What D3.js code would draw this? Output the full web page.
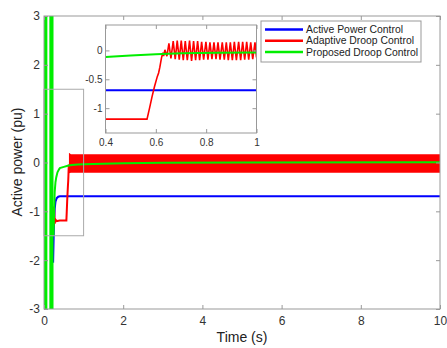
<html>
<script src="https://d3js.org/d3.v7.min.js"></script>
<body style="margin:0;background:#fff">
<svg id="chart" width="447" height="348"></svg>
<script>
// values, [time (s), active power (pu)]
var seriesNames = ["Active Power Control", "Adaptive Droop Control", "Proposed Droop Control"];
var seriesColors = ["#0000ff", "#ff0000", "#00ee00"];

var activePower = [[0.23,-2.05],[0.25,-1.3],[0.27,-0.95],[0.29,-0.8],[0.32,-0.73],[0.36,-0.7],[0.4,-0.69],[10,-0.69]];

var adaptiveStart = [[0.225,-0.9],[0.24,-1.3],[0.255,-0.95],[0.27,-1.25],[0.29,-1.17],[0.32,-1.2],[0.4,-1.19],
    [0.565,-1.19],[0.575,-1.0],[0.585,-0.8],[0.595,-0.62],[0.606,-0.45],[0.611,-0.39],[0.616,-0.29],
    [0.62,-0.19],[0.623,-0.12],[0.628,-0.04],[0.631,-0.1]];
// oscillation after the step, peaks and troughs as seen in the inset
var adaptivePeakT = [0.636,0.652,0.669,0.685,0.701,0.717,0.734,0.750,0.766,0.782,0.799,0.815,0.831,0.847,0.864,0.880,0.896,0.912,0.929,0.945,0.961,0.977,0.994];
var adaptivePeak = [0.01,0.12,0.16,0.17,0.17,0.16,0.17,0.16,0.16,0.15,0.15,0.14,0.14,0.14,0.14,0.14,0.14,0.15,0.15,0.15,0.15,0.14,0.14];
var adaptiveTroughT = [0.644,0.660,0.677,0.693,0.709,0.725,0.742,0.758,0.774,0.790,0.807,0.823,0.839,0.855,0.872,0.888,0.904,0.920,0.937,0.953,0.969,0.985,1.0];
var adaptiveTrough = [-0.1,-0.14,-0.15,-0.16,-0.17,-0.17,-0.18,-0.17,-0.17,-0.16,-0.16,-0.15,-0.15,-0.16,-0.16,-0.17,-0.17,-0.17,-0.17,-0.16,-0.16,-0.15,-0.12];
// envelope of the same oscillation over the full run
var adaptiveBandT = [0.63,0.68,1,10];
var adaptiveBandHi = [0.2,0.17,0.17,0.17];
var adaptiveBandLo = [-0.22,-0.21,-0.21,-0.21];

// start-up bursts that saturate the axis, [from, to] in s
var proposedBursts = [[0,0.085],[0.135,0.24]];
var proposedTrace = [[0.24,-1.5],[0.255,-1.0],[0.27,-0.6],[0.29,-0.4],[0.31,-0.3],[0.34,-0.2],[0.38,-0.14],[0.4,-0.115],
    [0.5,-0.09],[0.6,-0.065],[0.7,-0.05],[0.85,-0.04],[1,-0.035],[1.5,-0.025],[2,-0.015],[3,-0.005],[5,0],[10,0.005]];

var xTicks = [0,2,4,6,8,10];
var yTicks = [-3,-2,-1,0,1,2,3];
var insetXTicks = [0.4,0.6,0.8,1];
var insetYTicks = [-1,-0.5,0];
var zoomBox = [0,1,-1.5,1.5];

var svg = d3.select("#chart");
var font = "'Liberation Sans', Arial, sans-serif";
var gray = "#999";

// oscillation points merged in time order
var adaptiveOsc = [];
for (var i = 0; i < adaptivePeakT.length; i++) {
    adaptiveOsc.push([adaptivePeakT[i], adaptivePeak[i]]);
    adaptiveOsc.push([adaptiveTroughT[i], adaptiveTrough[i]]);
}
var adaptiveInset = adaptiveStart.concat(adaptiveOsc);
var band = adaptiveBandT.map(function(t, i) { return [t, adaptiveBandHi[i], adaptiveBandLo[i]]; });

function drawAxes(g, x, y, xt, yt, fs, xPad, yPad) {
    var w = x.range()[1] - x.range()[0];
    var h = y.range()[0] - y.range()[1];
    var fmt = function(d) { return String(d); };
    g.append("g").attr("transform", "translate(0," + y.range()[0] + ")")
        .call(d3.axisBottom(x).tickValues(xt).tickSizeInner(-4).tickSizeOuter(0).tickPadding(xPad).tickFormat(fmt));
    g.append("g").attr("transform", "translate(0," + y.range()[1] + ")")
        .call(d3.axisTop(x).tickValues(xt).tickSizeInner(-4).tickSizeOuter(0).tickFormat(""));
    g.append("g").attr("transform", "translate(" + x.range()[0] + ",0)")
        .call(d3.axisLeft(y).tickValues(yt).tickSizeInner(-4).tickSizeOuter(0).tickPadding(yPad).tickFormat(fmt));
    g.append("g").attr("transform", "translate(" + x.range()[1] + ",0)")
        .call(d3.axisRight(y).tickValues(yt).tickSizeInner(-4).tickSizeOuter(0).tickFormat(""));
    g.selectAll(".domain").remove();
    g.selectAll(".tick line").attr("stroke", gray);
    g.selectAll(".tick text").attr("fill", "#333").style("font-family", font).style("font-size", fs + "px");
    g.append("rect").attr("x", x.range()[0]).attr("y", y.range()[1]).attr("width", w).attr("height", h)
        .attr("fill", "none").attr("stroke", gray);
}

// main axes
var x = d3.scaleLinear().domain([0,10]).range([44,440]);
var y = d3.scaleLinear().domain([-3,3]).range([309,16]);

svg.append("clipPath").attr("id", "mainClip").append("rect")
    .attr("x", 44).attr("y", 16).attr("width", 396).attr("height", 293);

var plot = svg.append("g").attr("clip-path", "url(#mainClip)");
var line = d3.line().x(function(d) { return x(d[0]); }).y(function(d) { return y(d[1]); });

plot.append("path").datum(activePower).attr("d", line)
    .attr("fill", "none").attr("stroke", seriesColors[0]).attr("stroke-width", 2);

plot.append("path").datum(adaptiveStart).attr("d", line)
    .attr("fill", "none").attr("stroke", seriesColors[1]).attr("stroke-width", 2);
plot.append("path").datum(band)
    .attr("d", d3.area().x(function(d) { return x(d[0]); }).y0(function(d) { return y(d[2]); }).y1(function(d) { return y(d[1]); }))
    .attr("fill", seriesColors[1]);

plot.selectAll("rect.burst").data(proposedBursts).enter().append("rect")
    .attr("class", "burst")
    .attr("x", function(d) { return x(d[0]); })
    .attr("width", function(d) { return x(d[1]) - x(d[0]); })
    .attr("y", y(3)).attr("height", y(-3) - y(3))
    .attr("fill", seriesColors[2]);
plot.append("path").datum(proposedTrace).attr("d", line)
    .attr("fill", "none").attr("stroke", seriesColors[2]).attr("stroke-width", 2);

// zoom box around the first second
svg.append("rect")
    .attr("x", x(zoomBox[0])).attr("y", y(zoomBox[3]))
    .attr("width", x(zoomBox[1]) - x(zoomBox[0])).attr("height", y(zoomBox[2]) - y(zoomBox[3]))
    .attr("fill", "none").attr("stroke", "#aaa");

drawAxes(svg.append("g"), x, y, xTicks, yTicks, 12, 7, 4);

svg.append("text").attr("x", 242).attr("y", 342).attr("text-anchor", "middle")
    .style("font-family", font).style("font-size", "14px").attr("fill", "#222").text("Time (s)");
svg.append("text").attr("transform", "rotate(-90)").attr("x", -162).attr("y", 22).attr("text-anchor", "middle")
    .style("font-family", font).style("font-size", "14px").attr("fill", "#222").text("Active power (pu)");

// inset
var ix = d3.scaleLinear().domain([0.4,1]).range([105.5,256.5]);
var iy = d3.scaleLinear().domain([-1.43,0.44]).range([133,25]);
var inset = svg.append("g");
inset.append("rect").attr("x", 105.5).attr("y", 25).attr("width", 151).attr("height", 108).attr("fill", "#fff");
inset.append("clipPath").attr("id", "insetClip").append("rect")
    .attr("x", 105.5).attr("y", 25).attr("width", 151).attr("height", 108);
var iplot = inset.append("g").attr("clip-path", "url(#insetClip)");
var iline = d3.line().x(function(d) { return ix(d[0]); }).y(function(d) { return iy(d[1]); });
iplot.append("path").datum(activePower).attr("d", iline)
    .attr("fill", "none").attr("stroke", seriesColors[0]).attr("stroke-width", 2);
iplot.append("path").datum(adaptiveInset).attr("d", iline)
    .attr("fill", "none").attr("stroke", seriesColors[1]).attr("stroke-width", 1.6);
iplot.append("path").datum(proposedTrace).attr("d", iline)
    .attr("fill", "none").attr("stroke", seriesColors[2]).attr("stroke-width", 2);
drawAxes(inset, ix, iy, insetXTicks, insetYTicks, 10, 6, 3);

// legend
var legend = svg.append("g");
legend.append("rect").attr("x", 261).attr("y", 21).attr("width", 160).attr("height", 41)
    .attr("fill", "#fff").attr("stroke", gray);
seriesNames.forEach(function(name, i) {
    var cy = 29.5 + i * 11.3;
    legend.append("line").attr("x1", 265).attr("x2", 303).attr("y1", cy).attr("y2", cy)
        .attr("stroke", seriesColors[i]).attr("stroke-width", 2.5);
    legend.append("text").attr("x", 306).attr("y", cy).attr("dy", "0.35em")
        .style("font-family", font).style("font-size", "10.4px").attr("fill", "#222").text(name);
});
</script>
</body>
</html>
